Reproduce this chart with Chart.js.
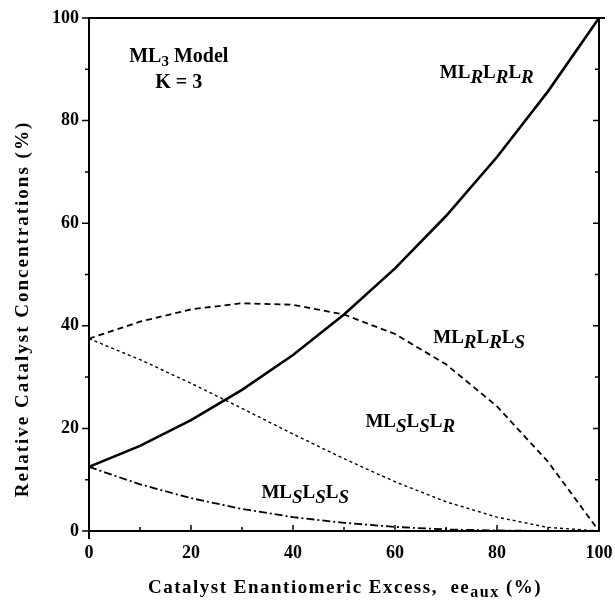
<!DOCTYPE html>
<html lang="en">
<head>
<meta charset="UTF-8" />
<title>ML3 Model - Catalyst Concentrations</title>
<script src="https://cdn.jsdelivr.net/npm/chart.js"></script>
<style>
  body { margin: 0; background: #fff; }
  #wrap { width: 615px; height: 602px; }
</style>
</head>
<body>
<div id="wrap"><canvas id="chart" width="615" height="602"></canvas></div>
<script>
// values, ee in %
const eeValues = [0, 10, 20, 30, 40, 50, 60, 70, 80, 90, 100];
const rrr = [12.5, 16.6, 21.6, 27.5, 34.3, 42.2, 51.2, 61.4, 72.9, 85.7, 100];
const rrs = [37.5, 40.8, 43.2, 44.4, 44.1, 42.2, 38.4, 32.5, 24.3, 13.5, 0];
const ssr = [37.5, 33.4, 28.8, 23.9, 18.9, 14.1, 9.6, 5.7, 2.7, 0.7, 0];
const sss = [12.5, 9.1, 6.4, 4.3, 2.7, 1.6, 0.8, 0.3, 0.1, 0, 0];
const majorTicks = [0, 20, 40, 60, 80, 100];
const minorTicks = [10, 30, 50, 70, 90];

const SERIF = "'Liberation Serif', 'DejaVu Serif', serif";

// curve labels: pieces of [text, isSubscript, italic]
const notes = [
  { x: 17.6, y: 92.4, size: 20, sub: 15, parts: [["ML", 0], ["3", 1, false], [" Model", 0]] },
  { x: 17.6, y: 87.3, size: 20, sub: 15, parts: [["K = 3", 0]] },
  { x: 78.0, y: 89.3, size: 19, sub: 19, parts: [["ML", 0], ["R", 1, true], ["L", 0], ["R", 1, true], ["L", 0], ["R", 1, true]] },
  { x: 76.5, y: 37.6, size: 19, sub: 19, parts: [["ML", 0], ["R", 1, true], ["L", 0], ["R", 1, true], ["L", 0], ["S", 1, true]] },
  { x: 63.0, y: 21.2, size: 19, sub: 19, parts: [["ML", 0], ["S", 1, true], ["L", 0], ["S", 1, true], ["L", 0], ["R", 1, true]] },
  { x: 42.4, y: 7.4, size: 19, sub: 19, parts: [["ML", 0], ["S", 1, true], ["L", 0], ["S", 1, true], ["L", 0], ["S", 1, true]] }
];

function drawRich(ctx, parts, cx, cy, size, subSize, spacing) {
  const fontFor = (p) => p[1]
    ? (p[2] ? "italic " : "") + "bold " + subSize + "px " + SERIF
    : "bold " + size + "px " + SERIF;
  ctx.letterSpacing = (spacing || 0) + "px";
  let total = 0;
  parts.forEach(p => { ctx.font = fontFor(p); total += ctx.measureText(p[0]).width; });
  let x = cx - total / 2;
  ctx.textBaseline = "middle";
  ctx.textAlign = "left";
  parts.forEach(p => {
    ctx.font = fontFor(p);
    ctx.fillText(p[0], x, p[1] ? cy + size * 0.28 : cy);
    x += ctx.measureText(p[0]).width;
  });
  ctx.letterSpacing = "0px";
}

const decorations = {
  id: "decorations",
  afterDraw(chart) {
    const ctx = chart.ctx;
    const xs = chart.scales.x, ys = chart.scales.y;
    const a = chart.chartArea;
    ctx.save();
    ctx.strokeStyle = "#000";
    ctx.fillStyle = "#000";

    // frame
    ctx.lineWidth = 2;
    ctx.strokeRect(a.left, a.top, a.right - a.left, a.bottom - a.top);
    ctx.beginPath();
    ctx.moveTo(a.left, a.bottom); ctx.lineTo(a.left, a.bottom + 8);
    ctx.moveTo(a.right, a.top); ctx.lineTo(a.right + 6, a.top);
    ctx.stroke();

    // left axis ticks point out, bottom and right point in
    ctx.lineWidth = 1.5;
    ctx.beginPath();
    majorTicks.forEach(v => {
      const py = ys.getPixelForValue(v);
      ctx.moveTo(a.left - 7, py); ctx.lineTo(a.left, py);
      ctx.moveTo(a.right, py); ctx.lineTo(a.right - 6, py);
      const px = xs.getPixelForValue(v);
      ctx.moveTo(px, a.bottom); ctx.lineTo(px, a.bottom - 6);
    });
    minorTicks.forEach(v => {
      const py = ys.getPixelForValue(v);
      ctx.moveTo(a.left - 4, py); ctx.lineTo(a.left, py);
      ctx.moveTo(a.right, py); ctx.lineTo(a.right - 4, py);
      const px = xs.getPixelForValue(v);
      ctx.moveTo(px, a.bottom); ctx.lineTo(px, a.bottom - 4);
    });
    ctx.stroke();

    // curve labels
    notes.forEach(n => {
      drawRich(ctx, n.parts, xs.getPixelForValue(n.x), ys.getPixelForValue(n.y), n.size, n.sub, 0);
    });

    // axis titles
    drawRich(ctx, [["Catalyst Enantiomeric Excess,  ee", 0], ["aux", 1, false], [" (%)", 0]],
      345, 588, 19, 16, 1.5);
    ctx.translate(23, 309);
    ctx.rotate(-Math.PI / 2);
    drawRich(ctx, [["Relative Catalyst Concentrations (%)", 0]], 0, 0, 19, 19, 2);
    ctx.restore();
  }
};

const toXY = (arr) => arr.map((v, i) => ({ x: eeValues[i], y: v }));

new Chart(document.getElementById("chart"), {
  type: "line",
  data: {
    datasets: [
      { label: "MLRLRLR", data: toXY(rrr), borderColor: "#000", borderWidth: 2.6 },
      { label: "MLRLRLS", data: toXY(rrs), borderColor: "#000", borderWidth: 1.8, borderDash: [6, 4] },
      { label: "MLSLSLR", data: toXY(ssr), borderColor: "#000", borderWidth: 1.4, borderDash: [3, 3] },
      { label: "MLSLSLS", data: toXY(sss), borderColor: "#000", borderWidth: 1.8, borderDash: [8, 3, 2, 3] }
    ]
  },
  options: {
    responsive: false,
    animation: false,
    events: [],
    layout: { padding: { left: 49, right: 16, top: 18, bottom: 31 } },
    elements: { point: { radius: 0 }, line: { tension: 0, fill: false } },
    plugins: { legend: { display: false }, tooltip: { enabled: false } },
    scales: {
      x: {
        type: "linear", min: 0, max: 100,
        afterFit(s) { s.height = 40; s.paddingLeft = 0; s.paddingRight = 0; },
        grid: { display: false, drawTicks: false },
        border: { display: false },
        ticks: {
          stepSize: 20, padding: 12, color: "#000",
          font: { family: SERIF, size: 18, weight: "bold" }
        }
      },
      y: {
        min: 0, max: 100,
        afterFit(s) { s.width = 40; s.paddingTop = 0; s.paddingBottom = 0; },
        grid: { display: false, drawTicks: false },
        border: { display: false },
        ticks: {
          stepSize: 20, padding: 10, color: "#000",
          font: { family: SERIF, size: 18, weight: "bold" }
        }
      }
    }
  },
  plugins: [decorations]
});
</script>
</body>
</html>
